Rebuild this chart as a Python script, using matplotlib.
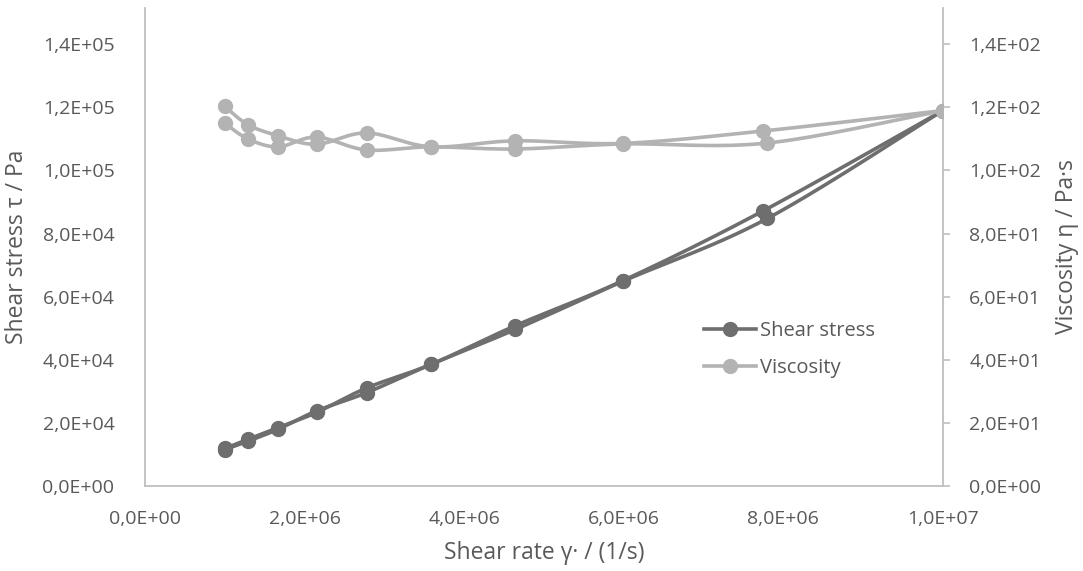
# shear stress / viscosity vs shear rate (up and down sweep)

import numpy as np
import matplotlib
matplotlib.use("Agg")
import matplotlib.pyplot as plt
from matplotlib.ticker import FuncFormatter
from matplotlib.lines import Line2D


# Data

rate_a = [1.00e6, 1.29e6, 1.67e6, 2.15e6, 2.78e6, 3.59e6, 4.64e6, 5.99e6, 7.74e6, 1.00e7]
rate_b = [1.00e6, 1.29e6, 1.67e6, 2.15e6, 2.78e6, 3.59e6, 4.64e6, 5.99e6, 7.80e6, 1.00e7]

stress_a = [1.19e4, 1.48e4, 1.85e4, 2.33e4, 3.11e4, 3.86e4, 5.08e4, 6.51e4, 8.71e4, 1.19e5]
stress_b = [1.15e4, 1.42e4, 1.80e4, 2.38e4, 2.96e4, 3.86e4, 4.96e4, 6.49e4, 8.48e4, 1.19e5]

visc_a = [120.3, 114.5, 111.0, 108.3, 111.9, 107.5, 109.4, 108.6, 112.5, 119.0]
visc_b = [115.0, 110.0, 107.5, 110.6, 106.5, 107.5, 106.8, 108.4, 108.7, 119.0]

x_ticks = [0, 2e6, 4e6, 6e6, 8e6, 1e7]
y1_ticks = [0, 2e4, 4e4, 6e4, 8e4, 1e5, 1.2e5, 1.4e5]
y2_ticks = [0, 20, 40, 60, 80, 100, 120, 140]

XMAX = 1e7
Y1MAX = 1.515e5
Y2MAX = 151.5

C_STRESS = "#6e6e6e"
C_VISC = "#b3b3b3"
C_TEXT = "#595959"
C_AXIS = "#bfbfbf"


def smooth(xs, ys, xmax, ymax, n=30):
    # Excel-like smoothed line (bezier through the points) in normalised coords
    px = np.asarray(xs) / xmax
    py = np.asarray(ys) / ymax
    P = np.column_stack([px, py])
    P = np.vstack([P[0], P, P[-1]])
    out = []
    t = np.linspace(0, 1, n)[:, None]
    for i in range(1, len(P) - 2):
        p0, p1, p2, p3 = P[i - 1], P[i], P[i + 1], P[i + 2]
        c1 = p1 + (p2 - p0) / 6.0
        c2 = p2 - (p3 - p1) / 6.0
        seg = ((1 - t) ** 3) * p1 + 3 * ((1 - t) ** 2) * t * c1 \
            + 3 * (1 - t) * t ** 2 * c2 + t ** 3 * p2
        out.append(seg)
    out = np.vstack(out)
    return out[:, 0] * xmax, out[:, 1] * ymax


def sci_comma(v, pos):
    return f"{v:.1E}".replace(".", ",")


plt.rcParams["font.family"] = ["Open Sans", "DejaVu Sans"]

fig = plt.figure(figsize=(10.83, 5.71), dpi=100)
ax = fig.add_axes([0.1339, 0.1489, 0.7368, 0.8371])
ax2 = ax.twinx()

lw = 2.6
ms = 10

# shear stress (left axis)
for r, s in [(rate_a, stress_a), (rate_b, stress_b)]:
    sx, sy = smooth(r, s, XMAX, Y1MAX)
    ax.plot(sx, sy, color=C_STRESS, lw=lw, zorder=2)
    ax.plot(r, s, "o", color=C_STRESS, ms=ms, zorder=3)

# viscosity (right axis)
for r, v in [(rate_a, visc_a), (rate_b, visc_b)]:
    sx, sy = smooth(r, v, XMAX, Y2MAX)
    ax2.plot(sx, sy, color=C_VISC, lw=lw, zorder=2)
    ax2.plot(r, v, "o", color=C_VISC, ms=ms, zorder=3)

ax.set_xlim(0, XMAX)
ax.set_ylim(0, Y1MAX)
ax2.set_ylim(0, Y2MAX)

ax.set_xticks(x_ticks)
ax.set_yticks(y1_ticks)
ax2.set_yticks(y2_ticks)
fmt = FuncFormatter(sci_comma)
ax.xaxis.set_major_formatter(fmt)
ax.yaxis.set_major_formatter(fmt)
ax2.yaxis.set_major_formatter(fmt)

for a in (ax, ax2):
    for sp in a.spines.values():
        sp.set_visible(False)
ax.spines["left"].set_visible(True)
ax.spines["bottom"].set_visible(True)
ax2.spines["right"].set_visible(True)
for sp in (ax.spines["left"], ax.spines["bottom"], ax2.spines["right"]):
    sp.set_color(C_AXIS)
    sp.set_linewidth(1.3)

fs_tick = 14
ax.tick_params(axis="x", length=0, pad=17, labelsize=fs_tick, labelcolor=C_TEXT)
ax.tick_params(axis="y", length=0, pad=22, labelsize=fs_tick, labelcolor=C_TEXT)
ax2.tick_params(axis="y", length=5, width=1.2, color=C_AXIS, pad=14,
                labelsize=fs_tick, labelcolor=C_TEXT)

fs_lab = 16.5
ax.set_xlabel("Shear rate γ· / (1/s)", fontsize=fs_lab, color=C_TEXT, labelpad=10)
ax.set_ylabel("Shear stress τ / Pa", fontsize=fs_lab, color=C_TEXT, labelpad=10)
ax2.set_ylabel("Viscosity η / Pa·s", fontsize=fs_lab, color=C_TEXT, labelpad=10)

handles = [
    Line2D([], [], color=C_STRESS, lw=lw, marker="o", ms=ms),
    Line2D([], [], color=C_VISC, lw=lw, marker="o", ms=ms),
]
fig.legend(handles, ["Shear stress", "Viscosity"], loc="upper left",
           bbox_to_anchor=(0.633, 0.470), frameon=False, fontsize=14.5,
           labelcolor=C_TEXT, handlelength=2.6, handletextpad=0.2,
           labelspacing=0.85)

plt.savefig("out.png", dpi=100)
